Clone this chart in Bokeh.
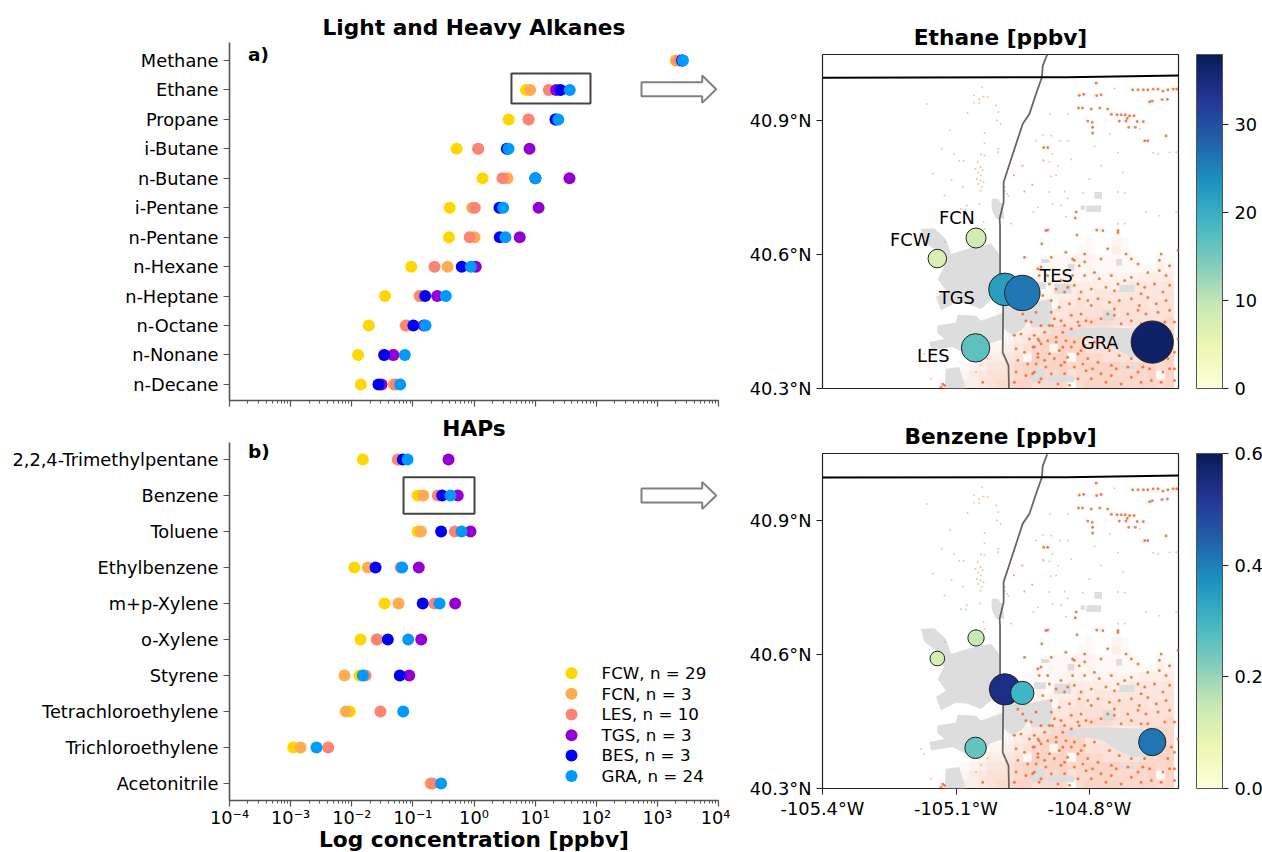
from bokeh.plotting import figure
from bokeh.layouts import row, column
from bokeh.models import (Range1d, FixedTicker, LogTicker, ColorBar,
                          LinearColorMapper, ColumnDataSource, Label)
from bokeh.palettes import YlGnBu9, interp_palette
from bokeh.embed import file_html
from bokeh.resources import INLINE
from bokeh.core.properties import value
import numpy as np

nan = float("nan")
FONT = "DejaVu Sans"

alkanes = ["Methane", "Ethane", "Propane", "i-Butane", "n-Butane", "i-Pentane", "n-Pentane",
           "n-Hexane", "n-Heptane", "n-Octane", "n-Nonane", "n-Decane"]
haps = ["2,2,4-Trimethylpentane", "Benzene", "Toluene", "Ethylbenzene", "m+p-Xylene", "o-Xylene",
        "Styrene", "Tetrachloroethylene", "Trichloroethylene", "Acetonitrile"]
sites = ["FCW", "FCN", "LES", "TGS", "BES", "GRA"]
site_counts = [29, 3, 10, 3, 3, 24]
site_colors = ["#FFD700", "#FFAB4F", "#FA8574", "#9400D3", "#0000F5", "#0099FF"]

alk_FCW = [1995, 7.1, 3.7, 0.52, 1.38, 0.40, 0.39, 0.094, 0.035, 0.019, 0.0127, 0.0141]
alk_FCN = [2040, 8.3, 7.8, 1.17, 3.53, 0.935, 1.02, 0.37, 0.128, 0.0757, 0.0334, 0.0488]
alk_LES = [2290, 16.7, 7.8, 1.17, 2.92, 1.03, 0.85, 0.226, 0.133, 0.0787, 0.0488, 0.052]
alk_TGS = [2550, 22.0, 22.0, 8.1, 36.5, 11.4, 5.6, 1.07, 0.25, 0.151, 0.0476, 0.0307]
alk_BES = [2550, 26.0, 21.5, 3.44, 10.1, 2.61, 2.64, 0.63, 0.159, 0.102, 0.034, 0.0274]
alk_GRA = [2620, 36.9, 23.9, 3.67, 10.1, 3.0, 3.27, 0.89, 0.346, 0.161, 0.0738, 0.062]

hap_FCW = [0.0152, 0.12, 0.12, 0.011, 0.0344, 0.0139, 0.0134, 0.0093, 0.0011, nan]
hap_FCN = [0.0589, 0.148, 0.135, 0.0183, 0.0582, 0.0254, 0.0076, 0.008, 0.00145, 0.194]
hap_LES = [0.0566, 0.256, 0.485, 0.0634, 0.226, 0.0261, 0.0168, 0.0295, 0.00412, 0.209]
hap_TGS = [0.383, 0.543, 0.877, 0.125, 0.492, 0.137, 0.0871, nan, nan, nan]
hap_BES = [0.0684, 0.302, 0.29, 0.0245, 0.145, 0.0389, 0.0611, nan, nan, nan]
hap_GRA = [0.0817, 0.413, 0.625, 0.0668, 0.273, 0.0839, 0.0152, 0.0695, 0.00265, 0.29]

site_lon = [-105.142, -105.055, -105.056, -104.990, -104.951, -104.659]
site_lat = [40.591, 40.637, 40.391, 40.522, 40.514, 40.404]
ethane_site = [7.1, 8.3, 16.7, 22.0, 26.0, 36.9]
benzene_site = [0.12, 0.148, 0.256, 0.543, 0.302, 0.413]

map_label_text = ["FCN", "FCW", "TES", "TGS", "LES", "GRA"]
map_label_lon = [-105.098, -105.203, -104.875, -105.098, -105.151, -104.777]
map_label_lat = [40.683, 40.634, 40.553, 40.503, 40.374, 40.403]

highway_lon = [-104.895, -104.905, -104.907, -104.920, -104.935, -104.950, -104.976, -104.993, -104.993,
               -105.002, -105.001, -105.001, -104.994, -104.995, -104.982, -104.981]
highway_lat = [41.048, 41.023, 40.997, 40.960, 40.915, 40.893, 40.814, 40.762, 40.717,
               40.680, 40.665, 40.560, 40.486, 40.381, 40.351, 40.300]
state_lon = [-105.4, -104.85, -104.6]
state_lat = [40.996, 40.997, 41.001]

urban_polys = [
    [(-105.179, 40.657), (-105.149, 40.659), (-105.123, 40.635), (-105.111, 40.601), (-105.074, 40.613),
     (-105.040, 40.620), (-105.021, 40.624), (-105.003, 40.601), (-105.001, 40.560), (-104.991, 40.486),
     (-105.021, 40.497), (-105.044, 40.478), (-105.074, 40.490), (-105.100, 40.492), (-105.134, 40.475),
     (-105.145, 40.505), (-105.123, 40.519), (-105.141, 40.545), (-105.126, 40.575), (-105.153, 40.587),
     (-105.145, 40.609), (-105.171, 40.628)],
    [(-105.141, 40.441), (-105.100, 40.448), (-105.096, 40.465), (-105.055, 40.463), (-105.044, 40.452),
     (-104.995, 40.469), (-104.995, 40.411), (-105.025, 40.400), (-105.044, 40.370), (-105.078, 40.378),
     (-105.108, 40.393), (-105.156, 40.385), (-105.160, 40.404), (-105.126, 40.411), (-105.143, 40.426)],
    [(-105.123, 40.344), (-105.093, 40.348), (-105.078, 40.300), (-105.126, 40.300)],
    [(-104.993, 40.497), (-104.939, 40.490), (-104.886, 40.501), (-104.883, 40.463), (-104.939, 40.449),
     (-104.954, 40.430), (-104.973, 40.419), (-104.993, 40.434)],
    [(-104.850, 40.432), (-104.770, 40.437), (-104.684, 40.434), (-104.646, 40.419), (-104.654, 40.370),
     (-104.706, 40.370), (-104.736, 40.385), (-104.770, 40.407), (-104.808, 40.415), (-104.850, 40.418)],
    [(-105.020, 40.725), (-105.006, 40.725), (-104.995, 40.710), (-104.991, 40.680), (-105.010, 40.680),
     (-105.020, 40.702)],
]
# left, bottom, right, top of small built-up patches
urban_boxes = [
    (-104.849, 40.564, -104.834, 40.579), (-104.740, 40.575, -104.727, 40.590),
    (-104.909, 40.581, -104.890, 40.590), (-104.733, 40.516, -104.699, 40.531),
    (-104.924, 40.523, -104.898, 40.538), (-104.879, 40.512, -104.841, 40.535),
    (-104.931, 40.437, -104.886, 40.486), (-104.931, 40.314, -104.901, 40.344),
    (-104.894, 40.314, -104.834, 40.329), (-104.729, 40.344, -104.699, 40.351),
    (-104.807, 40.695, -104.774, 40.710), (-104.789, 40.725, -104.772, 40.740),
    (-104.820, 40.700, -104.810, 40.710), (-104.770, 40.452, -104.744, 40.475),
]

# well density read per 0.02 degree cell, north to south
dens_lon0 = -105.12
dens_lat0 = 40.63
dens_rows = [
    "00000000000000001002100000",
    "00000000000000011003100000",
    "00000000000111122111110011",
    "00000000001111212111111122",
    "00000000011112222222223333",
    "00000000011111333332344444",
    "00000000112123343444444445",
    "00000011122314454545555455",
    "00000011222344555554555555",
    "00000011223455556665555556",
    "00000012234566665543345666",
    "00000112345677774433334666",
    "00001223456727775555434667",
    "00012334517777176655545677",
    "00123445677677667777667767",
    "01234555675667566776676717",
    "02334566775666167777667767",
]

wells_strong = [
    (-104.785, 40.984), (-104.823, 40.957), (-104.813, 40.959), (-104.784, 40.956), (-104.774, 40.958),
    (-104.825, 40.928), (-104.816, 40.928), (-104.796, 40.926), (-104.777, 40.928), (-104.759, 40.926),
    (-104.751, 40.914), (-104.738, 40.913), (-104.729, 40.913), (-104.720, 40.913), (-104.710, 40.911),
    (-104.700, 40.911), (-104.715, 40.905), (-104.718, 40.899), (-104.733, 40.899), (-104.693, 40.898),
    (-104.679, 40.898), (-104.804, 40.899), (-104.794, 40.896), (-104.793, 40.885), (-104.793, 40.872),
    (-104.712, 40.885), (-104.697, 40.885), (-104.676, 40.855), (-104.669, 40.855), (-104.628, 40.866),
    (-104.703, 40.969), (-104.691, 40.969), (-104.679, 40.969), (-104.669, 40.969), (-104.657, 40.971),
    (-104.646, 40.971), (-104.635, 40.966), (-104.624, 40.969), (-104.612, 40.971), (-104.604, 40.971),
    (-104.665, 40.942), (-104.659, 40.944), (-104.637, 40.947), (-104.625, 40.948), (-104.903, 40.840),
    (-104.894, 40.840), (-104.830, 40.695), (-104.832, 40.682), (-104.894, 40.655), (-104.828, 40.644),
    (-104.784, 40.655), (-104.770, 40.654), (-104.736, 40.654), (-104.736, 40.649),
    (-104.898, 40.654), (-104.907, 40.624), (-104.909, 40.572), (-104.886, 40.594), (-104.853, 40.605),
    (-104.838, 40.590), (-104.811, 40.601), (-104.811, 40.584), (-104.823, 40.575), (-104.834, 40.587),
    (-104.774, 40.590), (-104.759, 40.613), (-104.718, 40.601), (-104.706, 40.590), (-104.691, 40.579),
    (-104.639, 40.601), (-104.643, 40.587), (-104.620, 40.575), (-104.601, 40.609), (-104.890, 40.534),
    (-104.875, 40.523), (-104.849, 40.527), (-104.834, 40.531), (-104.811, 40.553), (-104.789, 40.560),
    (-104.778, 40.546), (-104.751, 40.553), (-104.763, 40.527), (-104.744, 40.519), (-104.706, 40.549),
    (-104.691, 40.534), (-104.669, 40.560), (-104.643, 40.564), (-104.628, 40.553), (-104.635, 40.516),
    (-104.669, 40.504), (-104.684, 40.512), (-104.706, 40.501), (-104.733, 40.497), (-104.755, 40.493),
    (-104.781, 40.501), (-104.804, 40.497), (-104.823, 40.501), (-104.845, 40.490), (-104.868, 40.482),
    (-104.886, 40.497), (-104.905, 40.508), (-104.886, 40.471), (-104.864, 40.452), (-104.841, 40.464),
    (-104.819, 40.467), (-104.796, 40.449), (-104.774, 40.456), (-104.744, 40.464), (-104.714, 40.467),
    (-104.691, 40.475), (-104.673, 40.467), (-104.646, 40.471), (-104.620, 40.475), (-104.609, 40.449),
    (-104.631, 40.449), (-104.684, 40.445), (-104.883, 40.441), (-104.860, 40.426), (-104.841, 40.434),
    (-104.823, 40.441), (-104.901, 40.426), (-104.916, 40.411), (-104.894, 40.407), (-104.875, 40.415),
    (-104.853, 40.407), (-104.834, 40.404), (-104.811, 40.396), (-104.789, 40.404), (-104.755, 40.385),
    (-104.733, 40.374), (-104.706, 40.367), (-104.676, 40.367), (-104.624, 40.367), (-104.609, 40.381),
    (-104.916, 40.378), (-104.890, 40.378), (-104.868, 40.385), (-104.849, 40.370), (-104.826, 40.378),
    (-104.804, 40.367), (-104.781, 40.359), (-104.751, 40.352), (-104.920, 40.355), (-104.898, 40.348),
    (-104.864, 40.352), (-104.834, 40.348), (-104.808, 40.340), (-104.774, 40.333), (-104.740, 40.344),
    (-104.691, 40.337), (-104.665, 40.344), (-104.620, 40.344), (-104.909, 40.322), (-104.871, 40.310),
    (-104.845, 40.307), (-104.796, 40.322), (-104.763, 40.314), (-104.729, 40.310), (-104.684, 40.314),
    (-104.639, 40.314), (-104.609, 40.318), (-104.969, 40.419), (-104.954, 40.422), (-104.935, 40.411),
    (-104.924, 40.419), (-104.913, 40.407), (-104.965, 40.389), (-104.946, 40.381), (-104.927, 40.393),
    (-104.916, 40.370), (-104.961, 40.363), (-104.939, 40.355), (-104.965, 40.337), (-104.943, 40.329),
    (-104.924, 40.337), (-104.913, 40.314), (-105.130, 40.310), (-105.134, 40.303), (-105.126, 40.307),
    (-105.040, 40.314), (-104.969, 40.314), (-104.943, 40.452), (-104.931, 40.449), (-104.920, 40.471),
    (-104.909, 40.441), (-104.950, 40.467), (-104.961, 40.478), (-104.946, 40.594), (-104.916, 40.568),
    (-104.913, 40.553), (-104.890, 40.441), (-104.879, 40.456), (-104.856, 40.441), (-104.826, 40.449),
    (-104.808, 40.452), (-104.875, 40.404), (-104.860, 40.393), (-104.841, 40.393), (-104.819, 40.385),
    (-104.909, 40.400), (-104.924, 40.393), (-104.879, 40.367), (-104.901, 40.363), (-104.856, 40.359),
    (-104.815, 40.355), (-104.886, 40.333), (-104.856, 40.333), (-104.826, 40.322), (-104.793, 40.344),
    (-104.928, 40.333), (-104.744, 40.478), (-104.759, 40.467), (-104.796, 40.486), (-104.819, 40.516),
    (-104.796, 40.523), (-104.856, 40.516), (-104.864, 40.542), (-104.894, 40.553), (-104.838, 40.553),
    (-104.736, 40.534), (-104.721, 40.542), (-104.676, 40.527), (-104.654, 40.534), (-104.620, 40.531),
    (-104.688, 40.486), (-104.650, 40.490), (-104.628, 40.497), (-104.706, 40.452), (-104.669, 40.445),
    (-104.729, 40.445), (-104.714, 40.348), (-104.680, 40.348), (-104.635, 40.337), (-104.706, 40.325),
    (-104.751, 40.329), (-104.661, 40.318), (-104.609, 40.344), (-104.601, 40.411), (-104.616, 40.393),
]
wells_faint = [
    (-104.744, 40.972), (-104.888, 40.915), (-104.849, 40.915), (-104.905, 40.868), (-104.886, 40.866),
    (-104.867, 40.855), (-104.849, 40.855), (-104.904, 40.812), (-104.890, 40.808), (-104.883, 40.825),
    (-104.871, 40.799), (-104.841, 40.813), (-104.774, 40.799), (-104.736, 40.828), (-104.789, 40.842),
    (-104.725, 40.784), (-104.687, 40.881), (-104.755, 40.870), (-104.646, 40.825), (-104.657, 40.828),
    (-104.620, 40.829), (-104.605, 40.829), (-104.920, 40.855), (-104.950, 40.799), (-104.970, 40.778),
    (-104.928, 40.756), (-104.886, 40.775), (-104.875, 40.777), (-104.800, 40.769), (-104.946, 40.741),
    (-104.890, 40.740), (-104.856, 40.741), (-104.815, 40.738), (-104.849, 40.726), (-104.736, 40.740),
    (-104.721, 40.738), (-104.883, 40.713), (-104.864, 40.710), (-104.926, 40.695), (-104.853, 40.684),
    (-104.976, 40.669), (-104.736, 40.669), (-104.721, 40.669), (-104.673, 40.695), (-104.643, 40.687),
    (-104.605, 40.695), (-105.042, 40.975), (-105.060, 40.957), (-105.038, 40.954), (-105.048, 40.948),
    (-105.029, 40.952), (-105.059, 40.940), (-105.048, 40.940), (-105.164, 40.937), (-105.074, 40.917),
    (-105.010, 40.934), (-105.005, 40.919), (-105.008, 40.900), (-104.999, 40.893), (-105.113, 40.878),
    (-105.036, 40.872), (-105.036, 40.849), (-105.132, 40.837), (-105.005, 40.837), (-105.006, 40.829),
    (-105.104, 40.824), (-105.044, 40.824), (-105.036, 40.822), (-105.093, 40.810), (-105.083, 40.810),
    (-105.051, 40.807), (-105.045, 40.796), (-105.057, 40.792), (-105.040, 40.788), (-105.050, 40.783),
    (-105.044, 40.777), (-105.053, 40.769), (-105.045, 40.766), (-105.038, 40.762), (-105.050, 40.758),
    (-105.042, 40.751), (-105.045, 40.743), (-105.152, 40.781), (-105.110, 40.767), (-105.085, 40.752),
    (-105.126, 40.732), (-104.991, 40.751), (-104.990, 40.743), (-104.993, 40.737), (-104.985, 40.736),
    (-104.982, 40.731), (-105.076, 40.710), (-105.078, 40.701), (-105.089, 40.702), (-105.047, 40.714),
    (-105.038, 40.673), (-104.970, 40.777), (-104.952, 40.799), (-104.929, 40.756), (-104.946, 40.741),
    (-104.916, 40.706), (-104.903, 40.810), (-105.126, 40.628), (-105.036, 40.657), (-105.029, 40.367),
    (-105.044, 40.352), (-105.055, 40.337), (-105.156, 40.322), (-105.179, 40.389), (-105.171, 40.378),
]

decades = [1e-4, 1e-3, 1e-2, 1e-1, 1e0, 1e1, 1e2, 1e3, 1e4]
decade_labels = ["10\u207b\u2074", "10\u207b\u00b3", "10\u207b\u00b2", "10\u207b\u00b9", "10\u2070",
                 "10\u00b9", "10\u00b2", "10\u00b3", "10\u2074"]
lat_ticks = [40.3, 40.6, 40.9]
lat_labels = ["40.3\u00b0N", "40.6\u00b0N", "40.9\u00b0N"]
lon_ticks = [-105.4, -105.1, -104.8]
lon_labels = ["-105.4\u00b0W", "-105.1\u00b0W", "-104.8\u00b0W"]

TICK_SIZE = "17.8px"
TITLE_SIZE = "21.7px"
SPINE = "#555555"


def style_title(p, standoff):
    p.title.align = "center"
    p.title.text_font = FONT
    p.title.text_font_size = TITLE_SIZE
    p.title.text_font_style = "bold"
    p.title.text_color = "black"
    p.title.standoff = standoff


def dot_panel(title, names, series, y_top, y_bottom, top, bottom, standoff):
    p = figure(frame_width=489, frame_height=358, output_backend="svg", toolbar_location=None,
               x_axis_type="log", x_range=Range1d(1e-4, 1e4), y_range=Range1d(y_bottom, y_top),
               title=title, min_border_left=229, min_border_right=12,
               min_border_top=top, min_border_bottom=bottom)
    style_title(p, standoff)
    p.grid.visible = False
    p.outline_line_color = None
    for ax in (p.xaxis[0], p.yaxis[0]):
        ax.axis_line_color = SPINE
        ax.axis_line_width = 1.6
        ax.major_tick_line_color = SPINE
        ax.major_tick_line_width = 1.2
        ax.major_tick_in = 0
        ax.major_tick_out = 6
        ax.major_label_text_font = FONT
        ax.major_label_text_font_size = TICK_SIZE
        ax.major_label_text_color = "black"
    p.xaxis[0].ticker = LogTicker(mantissas=[1], desired_num_ticks=9, num_minor_ticks=10)
    p.xaxis[0].minor_tick_line_color = SPINE
    p.xaxis[0].minor_tick_in = 0
    p.xaxis[0].minor_tick_out = 3
    p.xaxis[0].major_label_standoff = 0
    p.xaxis[0].major_label_overrides = dict(zip(decades, decade_labels))
    p.yaxis[0].ticker = FixedTicker(ticks=list(range(len(names))))
    p.yaxis[0].major_label_overrides = {i: n for i, n in enumerate(names)}
    p.yaxis[0].minor_tick_line_color = None
    rows = list(range(len(names)))
    for vals, col in zip(series, site_colors):
        p.scatter(vals, rows, size=12, marker="circle", fill_color=col, line_color=None)
    return p


def block_arrow(p, row_y, half_t, half_h):
    tail, base, tip = 550, 5410, 9170
    p.patch([tail, base, base, tip, base, base, tail],
            [row_y - half_t, row_y - half_t, row_y - half_h, row_y, row_y + half_h, row_y + half_t, row_y + half_t],
            fill_color="white", line_color="#808080", line_width=2)


def corner(p, text, x, y):
    p.add_layout(Label(x=x, y=y, text=text, text_font=FONT, text_font_size="18.5px",
                       text_font_style="bold", text_baseline="middle", text_color="black"))


pa = dot_panel("Light and Heavy Alkanes", alkanes,
               [alk_FCW, alk_FCN, alk_LES, alk_TGS, alk_BES, alk_GRA], -0.611, 11.545, 42, 12, 5)
pa.xaxis[0].major_label_overrides = {d: "" for d in decades}
pa.quad(left=[4.1], right=[80.5], top=[0.44], bottom=[1.46], fill_color=None, line_color="#444444", line_width=2)
block_arrow(pa, 0.975, 0.237, 0.463)
corner(pa, "a)", 2.0e-4, -0.2)

pb = dot_panel("HAPs", haps,
               [hap_FCW, hap_FCN, hap_LES, hap_TGS, hap_BES, hap_GRA], -0.472, 9.472, 30, 52, 3)
pb.quad(left=[0.0703], right=[1.02], top=[0.49], bottom=[1.51], fill_color=None, line_color="#444444", line_width=2)
block_arrow(pb, 1.0, 0.194, 0.378)
corner(pb, "b)", 2.0e-4, -0.22)
pb.xaxis[0].axis_label = "Log concentration [ppbv]"
pb.xaxis[0].axis_label_text_font = FONT
pb.xaxis[0].axis_label_text_font_size = TITLE_SIZE
pb.xaxis[0].axis_label_text_font_style = "bold"
pb.xaxis[0].axis_label_text_color = "black"
pb.xaxis[0].axis_label_standoff = -4

# key of the six sites, placed in the empty lower right of panel b
key_dot_x = 39.4
key_text_x = 122
key_rows = [5.936, 6.508, 7.083, 7.658, 8.222, 8.794]
pb.scatter([key_dot_x] * len(sites), key_rows, size=12, marker="circle", fill_color=site_colors, line_color=None)
pb.text([key_text_x] * len(sites), key_rows, [f"{s}, n = {n}" for s, n in zip(sites, site_counts)],
        text_font=value(FONT), text_font_size="16.7px", text_baseline="middle", text_color="black")


def map_panel(title, vals, high, ticks, tick_labels, size_scale, top, frame_h, bottom, lat_top, show_x):
    p = figure(frame_width=356, frame_height=frame_h, output_backend="svg", toolbar_location=None,
               x_range=Range1d(-105.4, -104.6), y_range=Range1d(40.3, lat_top), title=title,
               min_border_left=92, min_border_right=84, min_border_top=top, min_border_bottom=bottom)
    style_title(p, 9)
    p.grid.visible = False
    p.outline_line_color = "#222222"
    p.outline_line_width = 1.2
    for ax in (p.xaxis[0], p.yaxis[0]):
        ax.axis_line_color = None
        ax.major_tick_line_color = "#222222"
        ax.major_tick_in = 0
        ax.major_tick_out = 6
        ax.minor_tick_line_color = None
        ax.major_label_text_font = FONT
        ax.major_label_text_font_size = TICK_SIZE
        ax.major_label_text_color = "black"
    p.xaxis[0].major_label_standoff = 3
    p.xaxis[0].ticker = FixedTicker(ticks=lon_ticks)
    p.xaxis[0].major_label_overrides = dict(zip(lon_ticks, lon_labels))
    p.yaxis[0].ticker = FixedTicker(ticks=lat_ticks)
    p.yaxis[0].major_label_overrides = dict(zip(lat_ticks, lat_labels))
    p.xaxis[0].visible = show_x

    # wells as an area density, under the built-up area
    cx, cy, ca = [], [], []
    for r, line in enumerate(dens_rows):
        for c, ch in enumerate(line):
            if ch != "0":
                cx.append(dens_lon0 + 0.02 * c)
                cy.append(dens_lat0 - 0.02 * r)
                ca.append(int(ch) * 0.045)
    p.rect(cx, cy, width=0.02, height=0.02, fill_color="#F0784A", fill_alpha=ca, line_color=None)

    # built-up area
    p.patches([[q[0] for q in poly] for poly in urban_polys], [[q[1] for q in poly] for poly in urban_polys],
              fill_color="#DDDDDD", line_color=None)
    p.quad(left=[b[0] for b in urban_boxes], bottom=[b[1] for b in urban_boxes],
           right=[b[2] for b in urban_boxes], top=[b[3] for b in urban_boxes],
           fill_color="#DDDDDD", line_color=None)

    p.scatter([w[0] for w in wells_faint], [w[1] for w in wells_faint], size=2, marker="circle",
              fill_color="#F08A60", fill_alpha=0.55, line_color=None)
    p.scatter([w[0] for w in wells_strong], [w[1] for w in wells_strong], size=3, marker="circle",
              fill_color="#F06A35", fill_alpha=0.85, line_color=None)

    p.line(highway_lon, highway_lat, line_color="#666666", line_width=1.8)
    p.line(state_lon, state_lat, line_color="black", line_width=2)

    mapper = LinearColorMapper(palette=interp_palette(list(reversed(YlGnBu9)), 256), low=0, high=high)
    sizes = [size_scale * np.sqrt(v) for v in vals]
    src = ColumnDataSource(dict(lon=site_lon, lat=site_lat, v=vals, s=sizes))
    p.scatter("lon", "lat", size="s", source=src, marker="circle",
              fill_color={"field": "v", "transform": mapper}, line_color="#222222", line_width=1)

    bar = ColorBar(color_mapper=mapper, width=26, location=(18, 0), margin=0, padding=0,
                   ticker=FixedTicker(ticks=ticks), major_label_overrides=dict(zip(ticks, tick_labels)),
                   major_label_text_font=FONT, major_label_text_font_size=TICK_SIZE,
                   major_label_text_color="black", major_tick_in=0, major_tick_out=6,
                   major_tick_line_color="#222222", bar_line_color="#555555", bar_line_width=1,
                   minor_tick_line_color=None, background_fill_color=None, border_line_color=None,
                   label_standoff=6)
    p.add_layout(bar, "right")
    return p


pc = map_panel("Ethane [ppbv]", ethane_site, 38, [0, 10, 20, 30], ["0", "10", "20", "30"], 6.95,
               54, 334, 26, 41.048, False)
pc.text(map_label_lon, map_label_lat, map_label_text, text_font=value(FONT), text_font_size="17.8px",
        text_align="center", text_baseline="middle", text_color="black")
corner(pc, "c)", -105.496, 41.047)

pd = map_panel("Benzene [ppbv]", benzene_site, 0.6, [0.0, 0.2, 0.4, 0.6], ["0.0", "0.2", "0.4", "0.6"], 42.4,
               39, 335, 64, 41.05, True)
corner(pd, "d)", -105.496, 41.05)

layout = row(column(pa, pb, spacing=0), column(pc, pd, spacing=0), spacing=0)
open("out.html", "w").write(file_html(layout, INLINE))
